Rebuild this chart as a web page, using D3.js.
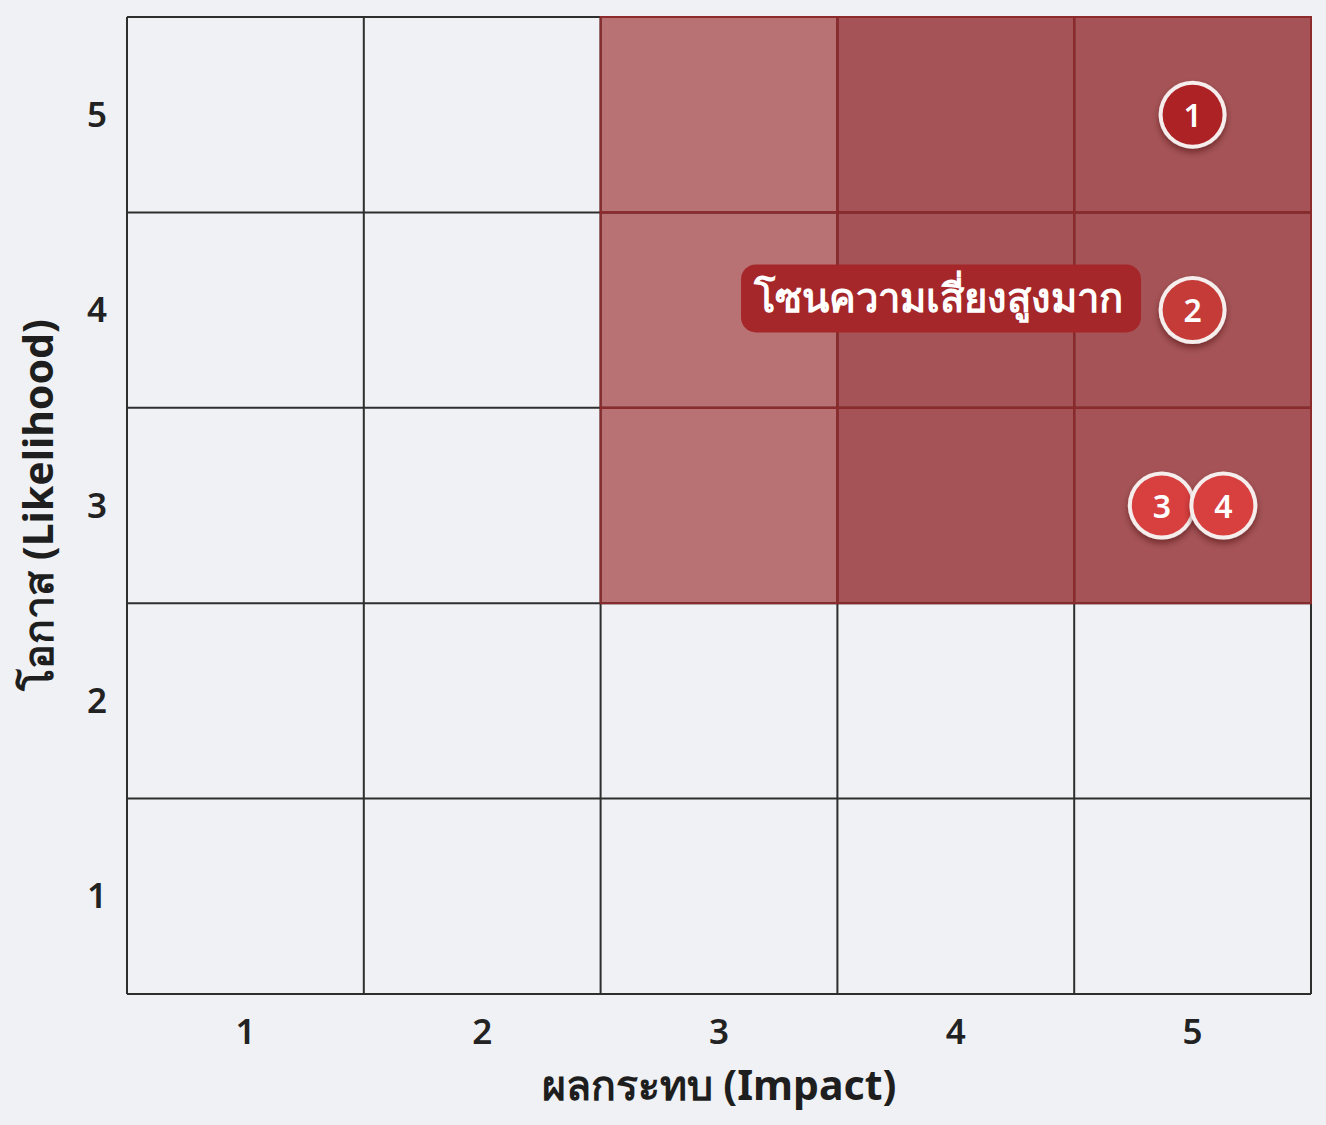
<!DOCTYPE html>
<html>
<head>
  <meta charset="utf-8">
  <script src="https://cdnjs.cloudflare.com/ajax/libs/d3/7.8.5/d3.min.js"></script>
  <title>risk matrix</title>
  <style>
    body { margin: 0; background: #eff1f4; }
    svg { display: block; }
  </style>
</head>
<body>
<script>
// data
var impacts = [1, 2, 3, 4, 5];
var likelihoods = [5, 4, 3, 2, 1];
// zone level per row (likelihood 5 -> 1), per impact column: 0 none, 1 high, 2 very high
var zoneRows = [
  [0, 0, 1, 2, 2],
  [0, 0, 1, 2, 2],
  [0, 0, 1, 2, 2],
  [0, 0, 0, 0, 0],
  [0, 0, 0, 0, 0]
];
var riskIds = ["1", "2", "3", "4"];
var riskImpact = [5, 5, 4.87, 5.13];
var riskLikelihood = [5, 4, 3, 3];
var riskTone = ["dark", "mid", "bright", "bright"];
var zoneLabel = "โซนความเสี่ยงสูงมาก";
var xTitle = "ผลกระทบ (Impact)";
var yTitle = "โอกาส (Likelihood)";

var W = 1326, H = 1125;
var pLeft = 127, pRight = 1311, pTop = 17, pBottom = 994;

var svg = d3.select("body").append("svg").attr("width", W).attr("height", H);

var defs = svg.append("defs");
var f = defs.append("filter").attr("id", "sh").attr("x", "-50%").attr("y", "-50%").attr("width", "200%").attr("height", "200%");
f.append("feDropShadow").attr("dx", 0).attr("dy", 4).attr("stdDeviation", 3).attr("flood-color", "#3a0000").attr("flood-opacity", 0.45);

var x = d3.scaleBand().domain(impacts).range([pLeft, pRight]);
var y = d3.scaleBand().domain(likelihoods).range([pTop, pBottom]);
var xl = d3.scaleLinear().domain([0.5, 5.5]).range([pLeft, pRight]);
var yl = d3.scaleLinear().domain([0.5, 5.5]).range([pBottom, pTop]);

var zoneFill = ["#eff1f4", "#b97274", "#a55356"];

var cells = [];
likelihoods.forEach(function(l, i) {
  impacts.forEach(function(im, j) {
    cells.push({ im: im, l: l, z: zoneRows[i][j] });
  });
});

svg.selectAll("rect.cell").data(cells).enter().append("rect")
  .attr("class", "cell")
  .attr("x", function(d) { return x(d.im); })
  .attr("y", function(d) { return y(d.l); })
  .attr("width", x.bandwidth())
  .attr("height", y.bandwidth())
  .attr("fill", function(d) { return zoneFill[d.z]; });

// grid lines
var g = svg.append("g");
g.selectAll("line.v").data(impacts.concat([6])).enter().append("line")
  .attr("x1", function(d) { return d === 6 ? pRight : x(d); })
  .attr("x2", function(d) { return d === 6 ? pRight : x(d); })
  .attr("y1", pTop).attr("y2", pBottom)
  .attr("stroke", "#2e2e2e").attr("stroke-width", 2);
g.selectAll("line.h").data(likelihoods.concat([0])).enter().append("line")
  .attr("y1", function(d) { return d === 0 ? pBottom : y(d); })
  .attr("y2", function(d) { return d === 0 ? pBottom : y(d); })
  .attr("x1", pLeft).attr("x2", pRight)
  .attr("stroke", "#2e2e2e").attr("stroke-width", 2);

// red lines inside zone
var zc = cells.filter(function(d) { return d.z > 0; });
svg.selectAll("rect.zb").data(zc).enter().append("rect")
  .attr("x", function(d) { return x(d.im); })
  .attr("y", function(d) { return y(d.l); })
  .attr("width", x.bandwidth())
  .attr("height", y.bandwidth())
  .attr("fill", "none")
  .attr("stroke", "#8c2a2c").attr("stroke-width", 2);

// tick labels
var font = "'Noto Sans', 'Open Sans', sans-serif";
svg.selectAll("text.xt").data(impacts).enter().append("text")
  .attr("x", function(d) { return x(d) + x.bandwidth() / 2; })
  .attr("y", 1044)
  .attr("text-anchor", "middle")
  .attr("font-family", font).attr("font-size", 35).attr("font-weight", 600).attr("fill", "#222")
  .text(function(d) { return d; });
svg.selectAll("text.yt").data(likelihoods).enter().append("text")
  .attr("x", 97)
  .attr("y", function(d) { return y(d) + y.bandwidth() / 2 + 12; })
  .attr("text-anchor", "middle")
  .attr("font-family", font).attr("font-size", 35).attr("font-weight", 600).attr("fill", "#222")
  .text(function(d) { return d; });

// titles
svg.append("text")
  .attr("x", 719).attr("y", 1100)
  .attr("text-anchor", "middle")
  .attr("font-family", font).attr("font-size", 41).attr("font-weight", "bold").attr("fill", "#1e1e1e")
  .text(xTitle);
svg.append("text")
  .attr("transform", "translate(53,505) rotate(-90)")
  .attr("text-anchor", "middle")
  .attr("font-family", font).attr("font-size", 41).attr("font-weight", "bold").attr("fill", "#1e1e1e")
  .text(yTitle);

// zone label pill
var lab = svg.append("g").attr("transform", "translate(" + xl(3.093) + "," + yl(4.06) + ")");
lab.append("rect")
  .attr("x", 0).attr("y", -34).attr("width", 400).attr("height", 68)
  .attr("rx", 15)
  .attr("fill", "#a6272a");
lab.append("text")
  .attr("x", 197).attr("y", 14)
  .attr("text-anchor", "middle")
  .attr("font-family", font).attr("font-size", 40).attr("font-weight", "bold").attr("fill", "#fff")
  .text(zoneLabel);

// risk markers
var toneFill = { dark: "#ad2224", mid: "#c43b38", bright: "#d8403f" };
var risks = riskIds.map(function(id, i) {
  return { id: id, im: riskImpact[i], l: riskLikelihood[i], t: riskTone[i] };
});
var m = svg.selectAll("g.risk").data(risks).enter().append("g")
  .attr("transform", function(d) { return "translate(" + xl(d.im) + "," + yl(d.l) + ")"; });
m.append("circle").attr("r", 34).attr("fill", "#f6eded").attr("filter", "url(#sh)");
m.append("circle").attr("r", 30).attr("fill", function(d) { return toneFill[d.t]; });
m.append("text")
  .attr("y", 12)
  .attr("text-anchor", "middle")
  .attr("font-family", font).attr("font-size", 32).attr("font-weight", 600).attr("fill", "#fff")
  .text(function(d) { return d.id; });
</script>
</body>
</html>
